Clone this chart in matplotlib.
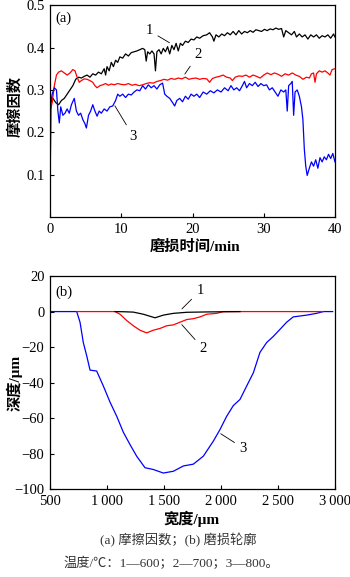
import matplotlib
matplotlib.use("Agg")
import matplotlib.pyplot as plt
from matplotlib.ticker import FixedLocator

plt.rcParams['font.family'] = ['Liberation Serif', 'Noto Sans CJK SC']
plt.rcParams['axes.unicode_minus'] = True

# (a) friction coefficient vs. time
t1 = [0, 0.1, 0.4, 0.8, 1.2, 1.6, 2.0, 2.4, 2.8, 3.2, 3.6, 4.0, 4.4, 4.8, 5.2, 5.6, 6.0, 6.4, 6.8, 7.2,
      7.6, 7.8, 8.0, 8.3, 8.6, 8.9, 9.2, 9.5, 9.8, 10.2, 10.6, 11.0, 11.4, 11.8, 12.2, 12.6, 13.0, 13.3,
      13.5, 13.7, 14.0, 14.3, 14.6, 14.8, 15.0, 15.3, 15.6, 15.9, 16.2, 16.5, 16.8, 17.1, 17.4, 17.7,
      18.0, 18.3, 18.6, 19.0, 19.4, 19.8, 20.2, 20.6, 21.0, 21.5, 22.0, 22.4, 22.8, 23.0, 23.3, 23.7,
      24.1, 24.5, 24.9, 25.3, 25.7, 26.1, 26.5, 26.9, 27.3, 27.7, 28.1, 28.5, 28.9, 29.3, 29.7, 30.1,
      30.5, 30.9, 31.3, 31.7, 32.1, 32.5, 32.8, 33.1, 33.5, 33.9, 34.3, 34.6, 35.0, 35.4, 35.8, 36.2,
      36.6, 37.0, 37.4, 37.8, 38.2, 38.6, 39.0, 39.4, 39.8, 40.0]
mu1 = [0.02, 0.27, 0.28, 0.27, 0.265, 0.275, 0.28, 0.29, 0.30, 0.31, 0.325, 0.33, 0.328, 0.332, 0.335,
       0.33, 0.338, 0.335, 0.342, 0.338, 0.35, 0.335, 0.355, 0.345, 0.365, 0.355, 0.37, 0.365, 0.378,
       0.375, 0.385, 0.38, 0.388, 0.39, 0.392, 0.395, 0.398, 0.395, 0.368, 0.39, 0.385, 0.392, 0.385,
       0.345, 0.39, 0.395, 0.385, 0.398, 0.39, 0.402, 0.385, 0.405, 0.395, 0.41, 0.392, 0.41, 0.405,
       0.415, 0.412, 0.42, 0.418, 0.425, 0.422, 0.428, 0.43, 0.435, 0.425, 0.415, 0.43, 0.425, 0.432,
       0.428, 0.435, 0.43, 0.438, 0.43, 0.44, 0.432, 0.438, 0.435, 0.44, 0.436, 0.442, 0.44, 0.438,
       0.443, 0.44, 0.444, 0.442, 0.446, 0.443, 0.445, 0.425, 0.44, 0.435, 0.43, 0.438, 0.425, 0.432,
       0.425, 0.43, 0.42, 0.43, 0.425, 0.43, 0.422, 0.428, 0.425, 0.43, 0.422, 0.432, 0.425]

t2 = [0, 0.3, 0.6, 0.9, 1.2, 1.6, 2.0, 2.4, 2.8, 3.2, 3.5, 3.8, 4.1, 4.4, 4.8, 5.2, 5.6, 6.0, 6.3, 6.6,
      7.0, 7.4, 7.8, 8.2, 8.6, 9.0, 9.5, 10.0, 10.5, 11.0, 11.5, 12.0, 12.5, 13.0, 13.5, 14.0, 14.5,
      15.0, 15.5, 16.0, 16.5, 17.0, 17.5, 18.0, 18.5, 19.0, 19.5, 20.0, 20.5, 21.0, 21.5, 22.0, 22.4,
      22.8, 23.3, 23.8, 24.3, 24.8, 25.3, 25.6, 26.0, 26.5, 27.0, 27.5, 28.0, 28.5, 29.0, 29.5, 30.0,
      30.5, 31.0, 31.5, 32.0, 32.5, 33.0, 33.5, 34.0, 34.5, 35.0, 35.5, 36.0, 36.4, 36.7, 37.0, 37.2,
      37.4, 37.8, 38.2, 38.6, 39.0, 39.3, 39.6, 40.0]
mu2 = [0.25, 0.27, 0.31, 0.335, 0.342, 0.345, 0.34, 0.335, 0.34, 0.348, 0.345, 0.33, 0.318, 0.322,
       0.326, 0.325, 0.322, 0.318, 0.31, 0.305, 0.31, 0.312, 0.315, 0.311, 0.314, 0.312, 0.315, 0.313,
       0.312, 0.315, 0.311, 0.313, 0.31, 0.312, 0.315, 0.317, 0.316, 0.32, 0.322, 0.325, 0.323, 0.327,
       0.325, 0.328, 0.326, 0.33, 0.325, 0.327, 0.328, 0.325, 0.327, 0.326, 0.318, 0.327, 0.33, 0.332,
       0.335, 0.33, 0.328, 0.322, 0.33, 0.333, 0.332, 0.335, 0.33, 0.335, 0.332, 0.328, 0.335, 0.34,
       0.336, 0.34, 0.337, 0.332, 0.338, 0.335, 0.34, 0.335, 0.332, 0.325, 0.33, 0.328, 0.338, 0.34,
       0.318, 0.338, 0.345, 0.342, 0.345, 0.34, 0.335, 0.348, 0.35]

t3 = [0, 0.1, 0.3, 0.6, 0.9, 1.1, 1.3, 1.5, 1.8, 2.1, 2.4, 2.7, 3.0, 3.4, 3.7, 4.0, 4.3, 4.6, 4.9, 5.1,
      5.4, 5.7, 6.0, 6.3, 6.6, 6.9, 7.2, 7.6, 8.0, 8.4, 8.8, 9.2, 9.5, 9.8, 10.2, 10.6, 11.0, 11.4,
      11.8, 12.2, 12.6, 13.0, 13.4, 13.8, 14.2, 14.6, 15.0, 15.4, 15.8, 16.1, 16.4, 16.8, 17.2, 17.5,
      17.8, 18.2, 18.6, 19.0, 19.4, 19.8, 20.2, 20.6, 21.0, 21.5, 22.0, 22.5, 23.0, 23.5, 24.0, 24.5,
      25.0, 25.4, 25.8, 26.2, 26.6, 27.0, 27.3, 27.6, 28.0, 28.4, 28.8, 29.2, 29.6, 30.0, 30.4, 30.8,
      31.2, 31.6, 32.0, 32.4, 32.8, 33.1, 33.3, 33.5, 33.8, 34.0, 34.2, 34.4, 34.7, 35.0, 35.3, 35.5,
      35.7, 35.9, 36.1, 36.4, 36.7, 37.0, 37.3, 37.6, 37.9, 38.2, 38.5, 38.8, 39.1, 39.4, 39.7, 40.0]
mu3 = [0.03, 0.27, 0.29, 0.305, 0.3, 0.25, 0.222, 0.26, 0.24, 0.245, 0.255, 0.245, 0.265, 0.28, 0.25,
       0.24, 0.245, 0.23, 0.22, 0.21, 0.24, 0.25, 0.265, 0.25, 0.238, 0.25, 0.245, 0.255, 0.25, 0.26,
       0.262, 0.275, 0.29, 0.285, 0.29, 0.282, 0.29, 0.288, 0.295, 0.3, 0.298, 0.31, 0.302, 0.312,
       0.305, 0.31, 0.302, 0.312, 0.316, 0.29, 0.285, 0.28, 0.27, 0.262, 0.275, 0.28, 0.272, 0.285,
       0.278, 0.29, 0.285, 0.29, 0.282, 0.295, 0.29, 0.298, 0.293, 0.3, 0.295, 0.305, 0.298, 0.31,
       0.3, 0.305, 0.298, 0.31, 0.32, 0.305, 0.315, 0.31, 0.318, 0.308, 0.315, 0.31, 0.312, 0.3,
       0.305, 0.295, 0.285, 0.3, 0.295, 0.3, 0.25, 0.31, 0.315, 0.32, 0.24, 0.295, 0.3, 0.285, 0.26,
       0.23, 0.16, 0.12, 0.098, 0.115, 0.13, 0.12, 0.135, 0.115, 0.14, 0.13, 0.142, 0.135, 0.148,
       0.138, 0.15, 0.13]

# (b) wear profile
w1 = [1070, 1150, 1231, 1319, 1421, 1494, 1582, 1699, 1874, 2167]
d1 = [0, -0.1, -0.3, -1.5, -3.5, -2.0, -1.0, -0.4, -0.2, 0]

w2 = [735, 1070, 1114, 1172, 1231, 1289, 1348, 1406, 1465, 1523, 1582, 1640, 1699, 1757, 1816, 1874,
      1962, 2020, 2895]
d2 = [0, 0, -1.5, -5, -8, -10.5, -12, -10.5, -9.5, -8, -7.5, -6, -4.5, -4, -3, -1.5, -1, 0, 0]

w3 = [500, 734, 763, 792, 822, 851, 909, 968, 1026, 1085, 1143, 1202, 1260, 1333, 1406, 1494, 1582,
      1670, 1757, 1845, 1933, 1991, 2050, 2108, 2167, 2225, 2284, 2342, 2400, 2459, 2518, 2576, 2634,
      2693, 2751, 2839, 2898, 2980]
d3 = [0, 0, -6, -17.5, -25, -33, -33.5, -42, -51, -59, -68, -75, -81.5, -88, -89, -91, -90, -87, -86,
      -81.5, -73, -66.5, -59, -53, -49.5, -42, -34.5, -23, -17.5, -14, -10, -6, -3, -2.5, -2, -1, 0, 0]

xticks_b = [500, 1000, 1500, 2000, 2500, 3000]
xticklabels_b = ['500', '1\u2009000', '1\u2009500', '2\u2009000', '2\u2009500', '3\u2009000']

fig = plt.figure(figsize=(3.5, 5.77), dpi=100)
ax1 = fig.add_axes([0.143, 0.624, 0.814, 0.367])
ax2 = fig.add_axes([0.143, 0.1525, 0.814, 0.369])

lw = 0.9
ax1.plot(t1, mu1, color='black', lw=lw)
ax1.plot(t2, mu2, color='red', lw=lw)
ax1.plot(t3, mu3, color='blue', lw=lw)
ax1.set_xlim(0, 40)
ax1.set_ylim(0, 0.5)
ax1.set_xticks([0, 10, 20, 30, 40])
ax1.yaxis.set_major_locator(FixedLocator([0.1, 0.2, 0.3, 0.4, 0.5]))
ax1.set_yticklabels(['0.1', '0.2', '0.3', '0.4', '0.5'])
ax1.set_xlabel('磨损时间/min', fontsize=11, fontweight='bold')
ax1.set_ylabel('摩擦因数', fontsize=11, fontweight='bold')
ax1.xaxis.set_label_coords(0.51, -0.108)
ax1.yaxis.set_label_coords(-0.097, 0.52)
ax1.text(0.018, 0.94, '(a)', transform=ax1.transAxes, fontsize=10.5, va='center')

ann = dict(arrowprops=dict(arrowstyle='-', color='black', lw=0.6), fontsize=10.5, ha='center', va='center')
ax1.annotate('1', xy=(17.1, 0.408), xytext=(13.9, 0.44), **ann)
ax1.annotate('2', xy=(18.7, 0.332), xytext=(20.8, 0.383), **ann)
ax1.annotate('3', xy=(8.9, 0.268), xytext=(11.7, 0.19), **ann)

ax2.plot(w3, d3, color='blue', lw=lw, zorder=2)
ax2.plot(w2, d2, color='red', lw=lw, zorder=3)
ax2.plot(w1, d1, color='black', lw=lw, zorder=4)
ax2.set_xlim(500, 3000)
ax2.set_ylim(-100, 20)
ax2.set_xticks(xticks_b)
ax2.set_xticklabels(xticklabels_b)
ax2.set_yticks([-100, -80, -60, -40, -20, 0, 20])
ax2.set_xlabel('宽度/μm', fontsize=11, fontweight='bold')
ax2.set_ylabel('深度/μm', fontsize=11, fontweight='bold')
ax2.xaxis.set_label_coords(0.498, -0.103)
ax2.yaxis.set_label_coords(-0.097, 0.50)
ax2.text(0.018, 0.925, '(b)', transform=ax2.transAxes, fontsize=10.5, va='center')
ax2.annotate('1', xy=(1640, 0.4), xytext=(1816, 11.7), **ann)
ax2.annotate('2', xy=(1640, -6.2), xytext=(1845, -21), **ann)
ax2.annotate('3', xy=(1977, -68), xytext=(2196, -77), **ann)

for ax in (ax1, ax2):
    ax.tick_params(direction='in', length=3, width=0.8, labelsize=10.5, pad=4)
    for s in ax.spines.values():
        s.set_linewidth(0.9)

fig.text(0.51, 1 - 540 / 577, '(a) 摩擦因数；(b) 磨损轮廓', ha='center', va='center',
         fontsize=9.5, color='#333333')
fig.text(0.49, 1 - 563 / 577, '温度/℃：1—600；2—700；3—800。', ha='center', va='center',
         fontsize=9.5, color='#333333')

fig.savefig('out.png', dpi=100)
